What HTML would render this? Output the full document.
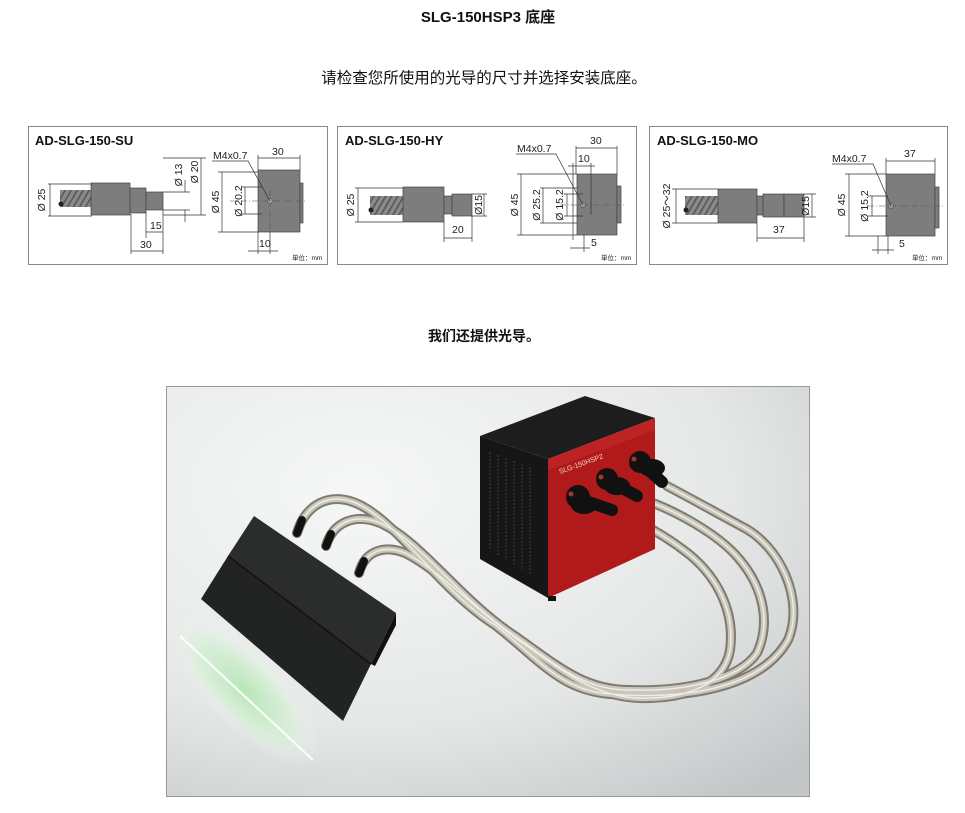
<!DOCTYPE html>
<html><head><meta charset="utf-8"><style>
html,body{margin:0;padding:0;background:#fff;width:965px;height:813px;overflow:hidden}
svg{display:block}
text{font-family:"Liberation Sans","Noto Sans CJK SC",sans-serif}
.d{font-size:10.5px;fill:#222}
.ln{stroke:#333;stroke-width:0.7;fill:none}
.cl{stroke:#555;stroke-width:0.6;fill:none;stroke-dasharray:6 2 1 2}
.b{fill:#7d7d7d;stroke:#444;stroke-width:0.7}
.t{font-size:13px;font-weight:bold;fill:#111}
.u{font-size:6.5px;fill:#222}
</style></head><body>
<svg width="965" height="813" viewBox="0 0 965 813" xmlns="http://www.w3.org/2000/svg">
<defs>
<pattern id="tw" width="6" height="20" patternUnits="userSpaceOnUse" patternTransform="skewX(-30)">
<rect width="6" height="20" fill="#8a8a8a"/><rect width="2" height="20" fill="#5a5a5a"/>
</pattern>
<linearGradient id="cyl" x1="0" y1="0" x2="0" y2="1"><stop offset="0" stop-color="#6e6e6e"/><stop offset="0.35" stop-color="#8d8d8d"/><stop offset="1" stop-color="#6a6a6a"/></linearGradient>
<radialGradient id="bg" cx="0.3" cy="0.25" r="0.95"><stop offset="0" stop-color="#f6f7f7"/><stop offset="0.6" stop-color="#e6e8e8"/><stop offset="1" stop-color="#c4c7c8"/></radialGradient>
<radialGradient id="gl" cx="0.5" cy="0.5" r="0.5"><stop offset="0" stop-color="#b8e6b8"/><stop offset="0.6" stop-color="#d5efd5" stop-opacity="0.8"/><stop offset="1" stop-color="#eef5ee" stop-opacity="0"/></radialGradient>
</defs>

<text x="488" y="22" text-anchor="middle" style="font-size:15px;font-weight:bold" fill="#111">SLG-150HSP3 底座</text>
<text x="484" y="83" text-anchor="middle" style="font-size:15.5px" fill="#111">请检查您所使用的光导的尺寸并选择安装底座。</text>

<!-- Panel 1 -->
<rect x="28.5" y="126.5" width="299" height="138" fill="#fff" stroke="#888"/>
<text class="t" x="35" y="145">AD-SLG-150-SU</text>
<rect x="60" y="190" width="32" height="17" fill="url(#tw)"/>
<ellipse cx="61" cy="204" rx="2.5" ry="2.5" fill="#222"/>
<rect class="b" x="91" y="183" width="39" height="32" fill="url(#cyl)"/>
<rect class="b" x="130" y="188" width="16" height="25" fill="url(#cyl)"/>
<rect class="b" x="146" y="192" width="17" height="18" fill="url(#cyl)"/>
<rect class="b" x="258" y="170" width="42" height="62" fill="#858585"/>
<rect class="b" x="300" y="183" width="3" height="40"/>
<path class="cl" d="M230 201H305M270 190V232"/>
<circle cx="270" cy="201" r="2.5" fill="#999" stroke="#444" stroke-width="0.5"/>
<path class="ln" d="M48 184H92M48 216H92M50 184V216"/>
<text class="d" transform="translate(45,200) rotate(-90)" text-anchor="middle">Ø 25</text>
<path class="ln" d="M163 192H190M163 210H190M185 180V192M185 210V222"/>
<text class="d" transform="translate(182,175) rotate(-90)" text-anchor="middle">Ø 13</text>
<path class="ln" d="M163 158H206M163 215H206M201 158V215"/>
<text class="d" transform="translate(198,172) rotate(-90)" text-anchor="middle">Ø 20</text>
<path class="ln" d="M146 212V238M163 210V254M146 232H163M131 214V254M131 251H163"/>
<text class="d" x="150" y="229">15</text><text class="d" x="140" y="248">30</text>
<text class="d" x="213" y="159">M4x0.7</text>
<path class="ln" d="M212 161H248L270 201"/>
<path class="ln" d="M258 158H300M258 155V170M300 155V170"/>
<text class="d" x="272" y="155">30</text>
<path class="ln" d="M222 172V232M218 172H258M218 232H258"/>
<text class="d" transform="translate(219,202) rotate(-90)" text-anchor="middle">Ø 45</text>
<path class="ln" d="M245 187V214M242 187H262M242 214H262"/>
<text class="d" transform="translate(242,201) rotate(-90)" text-anchor="middle">Ø 20.2</text>
<path class="ln" d="M258 232V254M270 232V254M248 251H278"/>
<text class="d" x="259" y="247">10</text>
<text class="u" x="292" y="260">単位：mm</text>

<!-- Panel 2 -->
<rect x="337.5" y="126.5" width="299" height="138" fill="#fff" stroke="#888"/>
<text class="t" x="345" y="145">AD-SLG-150-HY</text>
<rect x="370" y="196" width="33" height="19" fill="url(#tw)"/>
<ellipse cx="371" cy="210" rx="2.5" ry="2.5" fill="#222"/>
<rect class="b" x="403" y="187" width="41" height="35" fill="url(#cyl)"/>
<rect class="b" x="444" y="196" width="8" height="18" fill="url(#cyl)"/>
<rect class="b" x="452" y="194" width="20" height="22" fill="url(#cyl)"/>
<rect class="b" x="577" y="174" width="40" height="61" fill="#858585"/>
<rect class="b" x="617" y="186" width="4" height="37"/>
<path class="cl" d="M560 205H624"/>
<circle cx="583" cy="205" r="2.5" fill="#999" stroke="#444" stroke-width="0.5"/>
<path class="ln" d="M355 188H403M355 222H403M358 188V222"/>
<text class="d" transform="translate(354,205) rotate(-90)" text-anchor="middle">Ø 25</text>
<path class="ln" d="M472 194H487M472 216H487M484 194V216"/>
<text class="d" transform="translate(482,205) rotate(-90)" text-anchor="middle">Ø15</text>
<path class="ln" d="M444 222V242M472 216V242M444 238H472"/>
<text class="d" x="452" y="233">20</text>
<path class="ln" d="M576 146V174M617 146V174M576 148H617"/><text class="d" x="590" y="144">30</text>
<path class="ln" d="M573 163V240M591 163V215M568 166H595"/><text class="d" x="578" y="162">10</text>
<text class="d" x="517" y="152">M4x0.7</text>
<path class="ln" d="M516 154H556L583 205"/>
<path class="ln" d="M521 174V235M517 174H577M517 235H577"/>
<text class="d" transform="translate(518,205) rotate(-90)" text-anchor="middle">Ø 45</text>
<path class="ln" d="M543 188V223M540 188H577M540 223H577"/>
<text class="d" transform="translate(540,205) rotate(-90)" text-anchor="middle">Ø 25.2</text>
<path class="ln" d="M567 194V216M564 194H583M564 216H583"/>
<text class="d" transform="translate(563,205) rotate(-90)" text-anchor="middle">Ø 15.2</text>
<path class="ln" d="M584 235V252M570 248H590"/><text class="d" x="591" y="246">5</text>
<text class="u" x="601" y="260">単位：mm</text>

<!-- Panel 3 -->
<rect x="649.5" y="126.5" width="298" height="138" fill="#fff" stroke="#888"/>
<text class="t" x="657" y="145">AD-SLG-150-MO</text>
<rect x="685" y="196" width="33" height="19" fill="url(#tw)"/>
<ellipse cx="686" cy="210" rx="2.5" ry="2.5" fill="#222"/>
<rect class="b" x="718" y="189" width="39" height="34" fill="url(#cyl)"/>
<rect class="b" x="757" y="196" width="6" height="19" fill="url(#cyl)"/>
<rect class="b" x="763" y="194" width="21" height="23" fill="url(#cyl)"/>
<rect class="b" x="784" y="194" width="20" height="23" fill="url(#cyl)"/>
<rect class="b" x="886" y="174" width="49" height="62" fill="#858585"/>
<rect class="b" x="935" y="187" width="4" height="41"/>
<path class="cl" d="M868 206H945"/>
<circle cx="891" cy="206" r="2.5" fill="#999" stroke="#444" stroke-width="0.5"/>
<path class="ln" d="M672 189H718M672 223H718M676 189V223"/>
<text class="d" transform="translate(670,206) rotate(-90)" text-anchor="middle">Ø 25～32</text>
<path class="ln" d="M804 194H816M804 217H816M812 194V217"/>
<text class="d" transform="translate(809,206) rotate(-90)" text-anchor="middle">Ø15</text>
<path class="ln" d="M757 223V242M804 217V242M757 238H804"/><text class="d" x="773" y="233">37</text>
<path class="ln" d="M886 158V174M935 158V174M886 161H935"/><text class="d" x="904" y="157">37</text>
<text class="d" x="832" y="162">M4x0.7</text>
<path class="ln" d="M832 164H873L891 206"/>
<path class="ln" d="M849 174V236M845 174H886M845 236H886"/>
<text class="d" transform="translate(845,205) rotate(-90)" text-anchor="middle">Ø 45</text>
<path class="ln" d="M872 196V216M868 196H888M868 216H888"/>
<text class="d" transform="translate(868,206) rotate(-90)" text-anchor="middle">Ø 15.2</text>
<path class="ln" d="M888 236V254M878 236V254M872 250H894"/><text class="d" x="899" y="247">5</text>
<text class="u" x="912" y="260">単位：mm</text>

<text x="484" y="341" text-anchor="middle" style="font-size:14px;font-weight:bold" fill="#111">我们还提供光导。</text>

<!-- Photo -->
<rect x="166.5" y="386.5" width="643" height="410" fill="url(#bg)" stroke="#999"/>
<ellipse cx="245" cy="690" rx="100" ry="38" transform="rotate(45 245 690)" fill="url(#gl)"/>
<path d="M180 636L313 760" stroke="#fff" stroke-width="2" opacity="0.9"/>

<!-- hoses -->
<g fill="none" stroke-linecap="round">
<g stroke="#7f7b70" stroke-width="10">
<path id="h1" d="M297 533C305 505 330 490 360 505C400 525 440 590 495 625C540 660 560 690 610 694C680 700 760 690 788 640C805 600 780 545 741 526C715 512 690 498 667 486"/>
<path id="h2" d="M326 546C333 522 355 513 380 523C420 540 460 600 515 636C560 668 585 690 630 690C690 692 740 678 757 653C770 625 765 590 740 560C720 535 675 510 642 499"/>
<path id="h3" d="M359 573C365 550 385 545 405 553C440 570 480 615 527 646C570 676 600 700 650 698C695 697 725 680 730 650C735 615 720 580 690 555C665 535 640 522 618 513"/>
</g>
<g stroke="#c9c6bb" stroke-width="6" stroke-dasharray="1.6 1.2">
<use href="#h1"/><use href="#h2"/><use href="#h3"/>
</g>
<g stroke="#efede6" stroke-width="1.5" stroke-dasharray="1.6 1.2">
<use href="#h1"/><use href="#h2"/><use href="#h3"/>
</g>
</g>

<!-- box -->
<polygon points="480,436 585,396 655,418 548,459" fill="#1d1d1d"/>
<polygon points="480,436 548,459 548,598 480,559" fill="#161616"/>
<g stroke="#333" stroke-width="1.5" stroke-dasharray="2 1.5">
<path d="M490 452V550M498 455V555M506 458V560M514 461V565M522 464V570M530 467V575"/>
</g>
<polygon points="548,459 655,418 655,549 548,598" fill="#b11a1a"/>
<polygon points="548,459 655,418 655,430 548,470" fill="#c42a2a" opacity="0.6"/>
<text x="560" y="474" transform="rotate(-20 560 474)" style="font-size:7px" fill="#f3d0d0">SLG-150HSP2</text>
<rect x="548" y="596" width="8" height="5" fill="#111"/>
<g stroke="#111" stroke-width="12" stroke-linecap="round">
<line x1="642" y1="464" x2="662" y2="482"/><line x1="609" y1="481" x2="637" y2="496"/><line x1="580" y1="499" x2="612" y2="510"/>
</g>
<g fill="#111">
<ellipse cx="652" cy="468" rx="13" ry="9"/><ellipse cx="640" cy="462" rx="11" ry="11"/>
<ellipse cx="617" cy="486" rx="13" ry="9"/><ellipse cx="607" cy="479" rx="11" ry="11"/>
<ellipse cx="584" cy="505" rx="13" ry="9"/><ellipse cx="578" cy="497" rx="12" ry="12"/>
</g>
<g fill="#a33"><circle cx="634" cy="459" r="2.5"/><circle cx="601" cy="477" r="2.5"/><circle cx="571" cy="494" r="2.5"/></g>

<!-- light head -->
<polygon points="254,516 396,613 371,664 228,556" fill="#2b2d2c"/>
<polygon points="228,556 371,664 343,721 201,599" fill="#222423"/>
<polygon points="371,664 396,613 396,625 375,666" fill="#111"/>
<line x1="228" y1="556" x2="371" y2="664" stroke="#111" stroke-width="1.5"/>
<g stroke="#111" stroke-width="8" stroke-linecap="round">
<line x1="297" y1="533" x2="302" y2="520"/><line x1="326" y1="546" x2="331" y2="534"/><line x1="359" y1="573" x2="364" y2="561"/>
</g>
</svg>
</body></html>
